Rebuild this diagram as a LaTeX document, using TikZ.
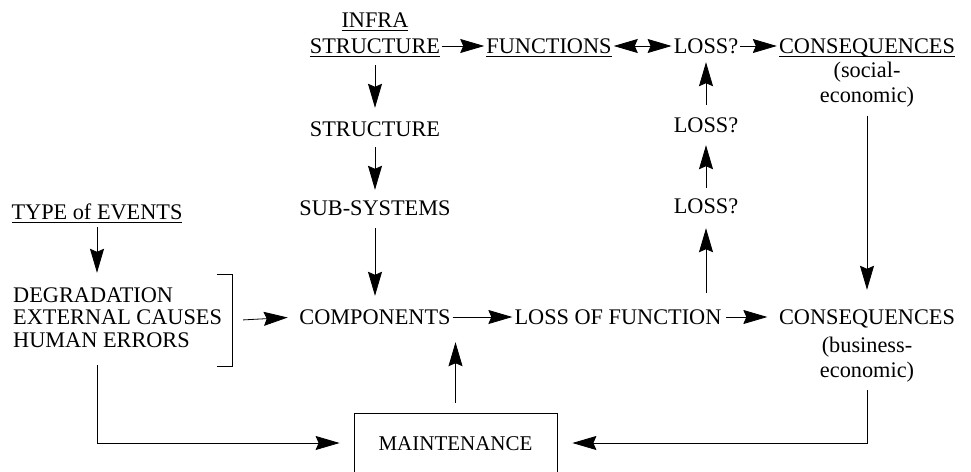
\documentclass[tikz,border=0pt]{standalone}
\usepackage{fontspec}
\setmainfont{Liberation Serif}
\usetikzlibrary{arrows.meta}
\newsavebox{\ulbox}
\newcommand{\ul}[1]{\sbox{\ulbox}{#1}\rlap{\rule[-3.5pt]{\wd\ulbox}{1.2pt}}\usebox{\ulbox}}
\newcommand{\capheight}{15pt}
\newcommand{\tipsize}{length=24pt, width=14pt, inset=3pt}
\tikzset{
    common/.style={inner xsep=2pt, inner ysep=0pt, font=\fontsize{22.3}{22.5}\selectfont},
    item/.style={common, text height=\capheight, text depth=0pt},
    note/.style={common, align=center, font=\fontsize{22.3}{25.5}\selectfont},
    list/.style={common, inner xsep=0pt, align=left, anchor=west},
    box/.style={item, draw, line width=0.8pt, font=\fontsize{21}{22}\selectfont, minimum width=203pt, minimum height=60pt},
    arr/.style={-{Stealth[\tipsize]}, line width=0.8pt},
    twoarr/.style={{Stealth[\tipsize]}-{Stealth[\tipsize]}, line width=0.8pt}
}

\begin{document}
\begin{tikzpicture}[x=1pt, y=-1pt]
    \useasboundingbox (0,0) rectangle (971,471);

    % top row
    \node[item] (infra-top) at (375,20) {\ul{INFRA}};
    \node[item] (infra) at (375,46) {\ul{STRUCTURE}};
    \node[item] (functions) at (549,46) {\ul{FUNCTIONS}};
    \node[item] (loss-top) at (706,46) {LOSS?};
    \node[item] (cons-social) at (867,46) {\ul{CONSEQUENCES}};
    \node[note] (cons-social-note) at (867,84.5) {(social-\\economic)};

    % middle and right columns
    \node[item] (structure) at (375,129) {STRUCTURE};
    \node[item] (subsystems) at (375,208) {SUB-SYSTEMS};
    \node[item] (components) at (375,317) {COMPONENTS};
    \node[item] (loss-mid) at (706,125) {LOSS?};
    \node[item] (loss-low) at (706,206) {LOSS?};
    \node[item] (loss-function) at (618,317) {LOSS OF FUNCTION};
    \node[item] (cons-business) at (867,317) {CONSEQUENCES};
    \node[note] (cons-business-note) at (867,359.5) {(business-\\economic)};

    % left column and maintenance
    \node[item] (events-type) at (97,212) {\ul{TYPE of EVENTS}};
    \node[list] (events) at (13,317.5) {DEGRADATION\\EXTERNAL CAUSES\\HUMAN ERRORS};
    \node[inner sep=0pt, minimum width=15pt, minimum height=91pt] (bracket) at (224.5,320.5) {};
    \node[box] (maint) at (455.5,443) {MAINTENANCE};

    \draw[line width=0.8pt] (bracket.north west) -| (bracket.south east) -- (bracket.south west);

    \draw[arr] (infra) -- (functions);
    \draw[twoarr] (functions) -- (loss-top);
    \draw[arr] (loss-top) -- (cons-social);

    \draw[arr, shorten <=11.5pt, shorten >=13.5pt] (infra) -- (structure);
    \draw[arr, shorten <=10.5pt, shorten >=10.5pt] (structure) -- (subsystems);
    \draw[arr, shorten <=12.5pt, shorten >=13.5pt] (subsystems) -- (components);
    \draw[arr] (components) -- (loss-function);
    \draw[arr, shorten <=2.5pt, shorten >=9.5pt] (loss-function) -- (cons-business);

    \draw[arr, shorten <=16.5pt, shorten >=14.5pt] (loss-function.north -| loss-low) -- (loss-low);
    \draw[arr, shorten <=10.5pt, shorten >=12.5pt] (loss-low) -- (loss-mid);
    \draw[arr, shorten <=12.5pt, shorten >=8.5pt] (loss-mid) -- (loss-top);
    \draw[arr, shorten <=8pt, shorten >=19.5pt] (cons-social-note) -- (cons-business);

    \draw[arr, shorten <=7.5pt, shorten >=14.5pt] (events-type) -- (events-type |- events.north);
    \draw[arr, shorten <=11pt, shorten >=9.5pt] (bracket.east) -- (components.west);
    \draw[arr, shorten <=17.5pt, shorten >=14pt] (events-type |- events.south) |- (maint.west);
    \draw[arr, shorten <=7.5pt, shorten >=15pt] (cons-business-note.south) |- (maint.east);
    \draw[arr, shorten <=10pt, shorten >=17.5pt] (maint.north) -- (maint.north |- components.south);
\end{tikzpicture}
\end{document}
